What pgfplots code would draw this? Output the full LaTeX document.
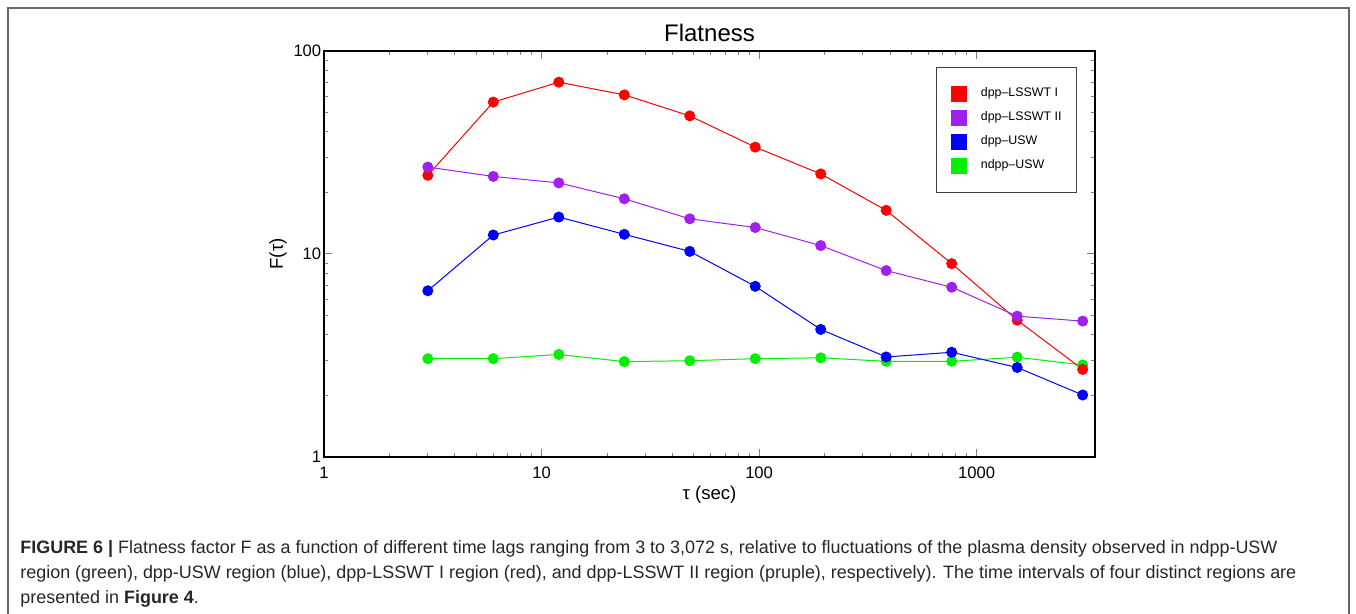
\documentclass[border=0pt]{standalone}
\usepackage{pgfplots}
\pgfplotsset{compat=1.18}
\usepackage{pgfplotstable}
\usepackage{fontspec}
\setmainfont{Liberation Sans}
\definecolor{idlpurple}{RGB}{160,32,240}
\definecolor{idlgreen}{RGB}{0,240,0}
\pgfplotstableread{
tau red purple blue green
3 24.4 26.8 6.59 3.05
6 56.0 24.1 12.4 3.05
12 70.2 22.4 15.2 3.20
24 60.8 18.7 12.5 2.95
48 47.9 14.9 10.3 2.98
96 33.6 13.5 6.93 3.05
192 24.8 11.0 4.25 3.08
384 16.4 8.28 3.11 2.96
768 8.96 6.86 3.28 2.96
1536 4.72 4.94 2.76 3.10
3072 2.70 4.67 2.02 2.84
}\datatab
\begin{document}
\begin{tikzpicture}
\path[use as bounding box] (0pt,0pt) rectangle (678pt,307pt);
\draw[color=black!60, line width=1pt] (4pt,-5pt) -- (4pt,303pt) -- (674.5pt,303pt) -- (674.5pt,-5pt);
\begin{axis}[
  at={(162pt,78.5pt)}, anchor=south west,
  scale only axis, width=385.5pt, height=203pt,
  xmode=log, ymode=log,
  xmin=1, xmax=3500, ymin=1, ymax=100,
  xtick={1,10,100,1000}, xticklabels={1,10,100,1000},
  ytick={1,10,100}, yticklabels={1,10,100},
  /pgf/number format/assume math mode=true,
  axis line style={line width=0.6pt},
  major tick style={line width=0.5pt}, minor tick style={line width=0.5pt},
  major tick length=4pt, minor tick length=2pt,
  tick label style={font=\fontsize{8.3}{10}\selectfont},
  xticklabel style={anchor=base, yshift=-10.9pt},
  yticklabel style={inner sep=1.2pt},
  title={Flatness},
  every axis title/.style={at={(axis description cs:0.5,1.0222)}, anchor=base, font=\fontsize{12}{14}\selectfont},
  xlabel={τ (sec)},
  every axis x label/.style={at={(axis description cs:0.5,-0.104)}, anchor=base, font=\fontsize{9.3}{11}\selectfont},
  ylabel={F(τ)},
  every axis y label/.style={at={(axis description cs:-0.0532,0.5)}, rotate=90, anchor=base, font=\fontsize{9.3}{11}\selectfont},
  legend image code/.code={\fill[#1] (0pt,-3.75pt) rectangle (7.5pt,3.75pt);},
  legend style={at={(1,1)}, anchor=north east, xshift=-9pt, yshift=-8pt,
    draw=black!75, line width=0.5pt, font=\fontsize{6.2}{7}\selectfont,
    inner xsep=7.5pt, inner ysep=7.2pt, row sep=0pt, column sep=6.7pt,
    nodes={inner sep=0pt, minimum height=12pt},
    column 2/.style={nodes={text width=51.5pt, inner sep=0pt, minimum height=12pt}}},
  legend cell align=left,
  every axis plot/.append style={line width=0.5pt, mark=*, mark size=2.5pt},
]
\addlegendimage{red, fill=red}
\addlegendentry{dpp–LSSWT I}
\addlegendimage{idlpurple, fill=idlpurple}
\addlegendentry{dpp–LSSWT II}
\addlegendimage{blue, fill=blue}
\addlegendentry{dpp–USW}
\addlegendimage{idlgreen, fill=idlgreen}
\addlegendentry{ndpp–USW}
\addplot[idlgreen, mark options={fill=idlgreen}, forget plot] table[x=tau, y=green] {\datatab};
\addplot[blue, mark options={fill=blue}, forget plot] table[x=tau, y=blue] {\datatab};
\addplot[red, mark options={fill=red}, forget plot] table[x=tau, y=red] {\datatab};
\addplot[idlpurple, mark options={fill=idlpurple}, forget plot] table[x=tau, y=purple] {\datatab};
\end{axis}
\begin{scope}[every node/.style={anchor=base west, inner sep=0pt, font=\fontsize{8.97}{12.5}\selectfont, text=black!85}]
\node at (10pt,30pt) {\textbf{FIGURE 6 |} Flatness factor F as a function of different time lags ranging from 3 to 3,072 s, relative to fluctuations of the plasma density observed in ndpp-USW};
\node at (10pt,17.5pt) {region (green), dpp-USW region (blue), dpp-LSSWT I region (red), and dpp-LSSWT II region (pruple), respectively). The time intervals of four distinct regions are};
\node at (10pt,5pt) {presented in \textbf{Figure 4}.};
\end{scope}
\end{tikzpicture}
\end{document}
